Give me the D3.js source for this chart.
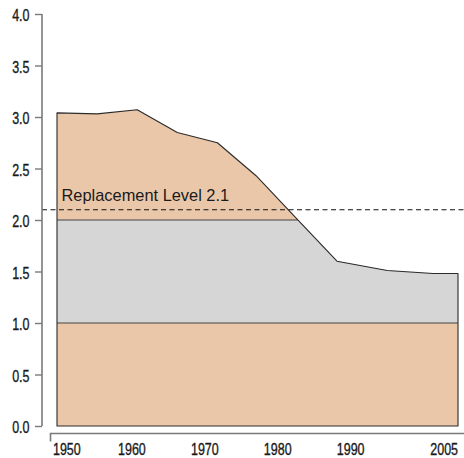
<!DOCTYPE html>
<html>
<head>
<meta charset="utf-8">
<script src="https://cdn.jsdelivr.net/npm/d3@7"></script>
<style>
  html, body { margin: 0; padding: 0; background: #fff; }
  svg { display: block; }
</style>
</head>
<body>
<svg id="chart" width="464" height="458"></svg>
<script>
// ---- data ----
const years = [1950, 1955.5, 1961, 1966.5, 1972, 1977.3, 1982.9, 1988.4, 1995.3, 2001.6, 2005];
const fertility = [3.04, 3.03, 3.07, 2.85, 2.75, 2.43, 2.01, 1.60, 1.51, 1.48, 1.48];
const yTicks = [0, 0.5, 1, 1.5, 2, 2.5, 3, 3.5, 4];
const xTickYears = [1950, 1960, 1970, 1980, 1990, 2005];
const bands = [1, 2];            // band boundaries (band 1–2 drawn grey)
const replacementLevel = 2.1;
const replacementLabel = "Replacement Level 2.1";

const data = years.map((y, i) => ({ year: y, value: fertility[i] }));

const svg = d3.select("#chart");
const x = d3.scaleLinear().domain([1950, 2005]).range([57, 458]);
const y = d3.scaleLinear().domain([0, 4]).range([426, 14]);

const peach = "#EBC7AA";
const grey = "#D6D6D6";
const axisCol = "#7a7a7a";
const lineCol = "#2a2a2a";
const numFont = "'Liberation Sans', Arial, sans-serif";
const squeeze = 0.78;
const numSize = 16;

const area = d3.area().x(d => x(d.year)).y0(y(0)).y1(d => y(d.value));

svg.append("defs").append("clipPath").attr("id", "areaClip")
  .append("path").attr("d", area(data));

// peach base area
svg.append("path").attr("d", area(data)).attr("fill", peach);

// grey band between 1 and 2, clipped by area
const clipped = svg.append("g").attr("clip-path", "url(#areaClip)");
clipped.append("rect")
  .attr("x", x(1950)).attr("width", x(2005) - x(1950))
  .attr("y", y(bands[1])).attr("height", y(bands[0]) - y(bands[1]))
  .attr("fill", grey);
clipped.selectAll("line.band").data(bands).join("line")
  .attr("class", "band")
  .attr("x1", x(1950)).attr("x2", x(2005))
  .attr("y1", d => y(d)).attr("y2", d => y(d))
  .attr("stroke", "#444").attr("stroke-width", 1.2);

// area outline
svg.append("path").attr("d", area(data))
  .attr("fill", "none").attr("stroke", lineCol).attr("stroke-width", 1.1)
  .attr("stroke-linejoin", "round");

// replacement level dashed line
svg.append("line")
  .attr("x1", 42).attr("x2", 464)
  .attr("y1", y(replacementLevel)).attr("y2", y(replacementLevel))
  .attr("stroke", "#111").attr("stroke-width", 1.1)
  .attr("stroke-dasharray", "5,3.5");

svg.append("text")
  .attr("x", 61.5).attr("y", 201)
  .attr("font-family", "'Liberation Sans', Arial, sans-serif")
  .attr("font-size", 16.4)
  .attr("fill", "#1a1a1a")
  .text(replacementLabel);

// y axis
const yAxis = d3.axisLeft(y).tickValues(yTicks).tickFormat(d3.format(".1f"))
  .tickSize(7).tickPadding(5);
const gy = svg.append("g").attr("transform", "translate(42,0)").call(yAxis);
gy.select(".domain").attr("stroke", axisCol).attr("stroke-width", 1.6).attr("d", "M0,14V426");
gy.selectAll(".tick line").attr("stroke", axisCol).attr("stroke-width", 1.4);
gy.selectAll(".tick text")
  .attr("x", 0).attr("dy", "0.43em")
  .attr("transform", `translate(-12.5,0) scale(${squeeze},1)`)
  .attr("font-family", numFont).attr("font-size", numSize).attr("fill", "#1a1a1a")
  .attr("stroke", "#1a1a1a").attr("stroke-width", 0.35);

// x axis
const gx = svg.append("g").attr("transform", "translate(0,433.5)");
gx.append("path").attr("d", "M50.5,8V0H464")
  .attr("fill", "none").attr("stroke", axisCol).attr("stroke-width", 1.6);
const last = xTickYears.length - 1;
gx.selectAll("text").data(xTickYears).join("text")
  .attr("transform", (d, i) => {
    const px = i === 0 ? x(d) - 4 : (i === last ? x(d) : x(d) + 2);
    return `translate(${px},21.5) scale(${squeeze},1)`;
  })
  .attr("text-anchor", (d, i) => i === 0 ? "start" : (i === last ? "end" : "middle"))
  .attr("font-family", numFont).attr("font-size", numSize).attr("fill", "#1a1a1a")
  .attr("stroke", "#1a1a1a").attr("stroke-width", 0.35)
  .text(d => d);
</script>
</body>
</html>
